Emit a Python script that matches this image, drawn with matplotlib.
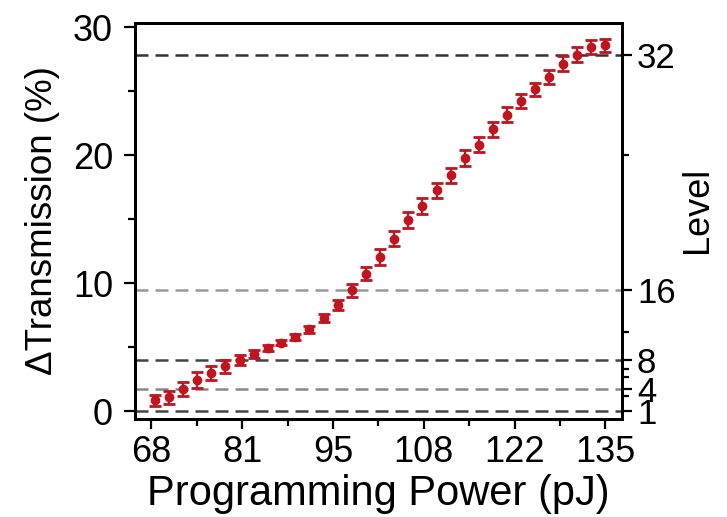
import matplotlib
matplotlib.use('Agg')
import matplotlib.pyplot as plt

plt.rcParams['font.family'] = ['Liberation Sans', 'DejaVu Sans']

# Programming power (pJ), measured transmission change (%) and error bars
power = [68.0, 70.1, 72.2, 74.3, 76.4, 78.5, 80.6, 82.7, 84.8, 86.8, 88.9,
         91.0, 93.1, 95.2, 97.3, 99.4, 101.5, 103.6, 105.7, 107.8, 109.9,
         112.0, 114.1, 116.2, 118.3, 120.3, 122.4, 124.5, 126.6, 128.7,
         130.8, 132.9, 135.0]
dtrans = [0.86, 1.12, 1.77, 2.47, 3.02, 3.54, 4.04, 4.51, 4.95, 5.36, 5.81,
          6.41, 7.32, 8.33, 9.45, 10.76, 12.06, 13.49, 14.95, 16.03, 17.27,
          18.44, 19.79, 20.83, 22.03, 23.18, 24.24, 25.16, 26.12, 27.16,
          27.87, 28.45, 28.6]
err = [0.45, 0.5, 0.55, 0.6, 0.55, 0.5, 0.4, 0.3, 0.25, 0.2, 0.2, 0.25,
       0.3, 0.4, 0.5, 0.5, 0.6, 0.6, 0.6, 0.6, 0.6, 0.6, 0.6, 0.6, 0.6,
       0.6, 0.55, 0.5, 0.55, 0.6, 0.55, 0.55, 0.5]

# x ticks
xticks = [67.5, 81, 94.5, 108, 121.5, 135]
xticklabels = ['68', '81', '95', '108', '122', '135']
xminor = [74.25, 87.75, 101.25, 114.75, 128.25]

# level thresholds (in % transmission) and their labels
level_pos = [27.85, 9.5, 4.04, 1.77, 0.0]
level_labels = ['32', '16', '8', '4', '1']
level_colors = ['#333333', '#999999', '#444444', '#888888', '#444444']
level_minor = [20.0, 6.2, 3.34, 2.73, 1.17]

red = '#c0141e'

fig = plt.figure(figsize=(7.27, 5.17), dpi=100)
ax = fig.add_axes([0.186, 0.19, 0.67, 0.766])

for y, c in zip(level_pos, level_colors):
    ax.axhline(y, color=c, lw=1.8, linestyle=(0, (5.2, 2.8)), zorder=1)

ax.errorbar(power, dtrans, yerr=err, fmt='o', color=red, ms=6,
            elinewidth=1.7, capsize=4, capthick=2.0, zorder=3)

ax.set_xlim(65.1, 137.5)
ax.set_ylim(-0.57, 30.35)

ax.set_xticks(xticks)
ax.set_xticklabels(xticklabels)
ax.set_xticks(xminor, minor=True)
ax.set_yticks([0, 10, 20, 30])
ax.set_yticks([5, 15, 25], minor=True)

ax.tick_params(which='major', direction='out', length=7.5, width=1.6,
               labelsize=26)
ax.tick_params(axis='x', which='major', pad=4)
ax.tick_params(axis='y', which='major', pad=8, length=8)
ax.tick_params(which='minor', direction='out', length=5, width=1.6)
ax.tick_params(axis='y', which='both', right=False)

for s in ax.spines.values():
    s.set_linewidth(2.0)

ax.set_xlabel('Programming Power (pJ)', fontsize=30, labelpad=3)
ax.set_ylabel('ΔTransmission (%)', fontsize=26.5, labelpad=9)

# secondary axis for levels
ax2 = ax.twinx()
ax2.set_ylim(ax.get_ylim())
ax2.set_yticks(level_pos)
ax2.set_yticklabels(level_labels)
ax2.set_yticks(level_minor, minor=True)
ax2.tick_params(which='major', direction='out', length=7.5, width=1.6,
                labelsize=25, pad=3)
ax2.tick_params(which='minor', direction='out', length=5, width=1.6)
ax2.set_ylabel('Level', fontsize=26)
ax2.yaxis.set_label_coords(1.118, 0.527)
for s in ax2.spines.values():
    s.set_linewidth(2.0)

fig.savefig('out.png', dpi=100)
